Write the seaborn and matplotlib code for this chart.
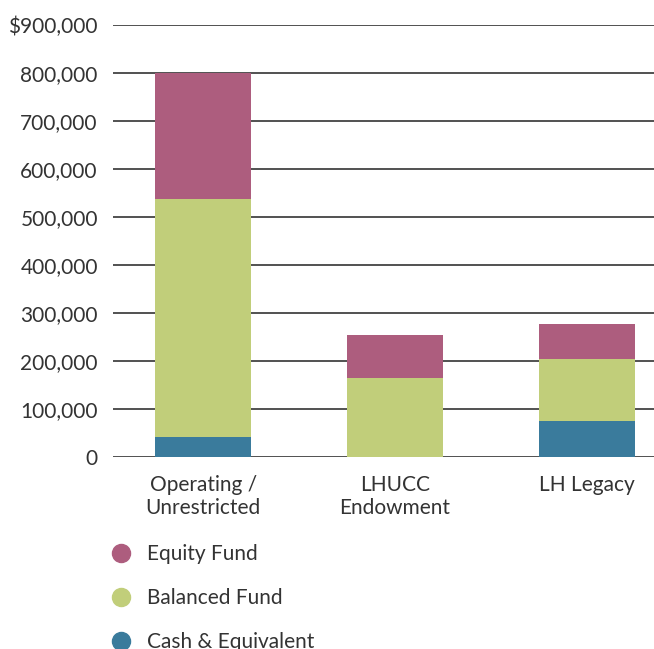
import matplotlib
matplotlib.use("Agg")
import matplotlib.pyplot as plt
from matplotlib.lines import Line2D
import seaborn as sns
import numpy as np

# Datos
categorias = ["Operating /\nUnrestricted", "LHUCC\nEndowment", "LH Legacy"]
cash = [42000, 0, 75000]
balanced = [496000, 165000, 129000]
equity = [262000, 90000, 73000]

series = ["Equity Fund", "Balanced Fund", "Cash & Equivalent"]
colores = {"Equity Fund": "#AD5D7E", "Balanced Fund": "#C1CE7A", "Cash & Equivalent": "#3A7B9C"}

sns.set_style("white")
plt.rcParams["font.family"] = ["Lato", "DejaVu Sans"]
texto = "#333333"

fig = plt.figure(figsize=(6.54, 6.49), dpi=100)
ax = fig.add_axes([0.173, 0.2958, 0.827, 0.6657])

base_bal = np.array(cash)
base_eq = np.array(cash) + np.array(balanced)

sns.barplot(x=categorias, y=cash, color=colores["Cash & Equivalent"], width=0.5,
            saturation=1, linewidth=0, ax=ax, zorder=3)
sns.barplot(x=categorias, y=balanced, bottom=base_bal, color=colores["Balanced Fund"],
            width=0.5, saturation=1, linewidth=0, ax=ax, zorder=3)
sns.barplot(x=categorias, y=equity, bottom=base_eq, color=colores["Equity Fund"],
            width=0.5, saturation=1, linewidth=0, ax=ax, zorder=3)

ax.set_xlim(-0.47, 2.35)
ax.set_ylim(0, 900000)
ax.set_yticks(np.arange(0, 900001, 100000))
ax.set_yticklabels(["0"] + [f"{v:,}" for v in range(100000, 800001, 100000)] + ["$900,000"])
ax.yaxis.grid(True, color="#222222", lw=1.1, zorder=0)
ax.set_axisbelow(True)
for s in ax.spines.values():
    s.set_visible(False)
ax.tick_params(axis="y", length=0, pad=11, labelsize=15, labelcolor=texto)
ax.tick_params(axis="x", length=0, pad=13, labelsize=15, labelcolor=texto)
for lab in ax.get_xticklabels():
    lab.set_linespacing(1.2)
ax.set_xlabel("")
ax.set_ylabel("")

# Leyenda
handles = [Line2D([], [], marker="o", ls="", markersize=13, color=colores[s]) for s in series]
fig.legend(handles, series, loc="upper left", bbox_to_anchor=(100 / 654, 1 - 534 / 649),
           frameon=False, fontsize=15, labelspacing=1.15, handlelength=1.0,
           handletextpad=0.75, borderpad=0, labelcolor=texto)

fig.savefig("out.png", dpi=100)
